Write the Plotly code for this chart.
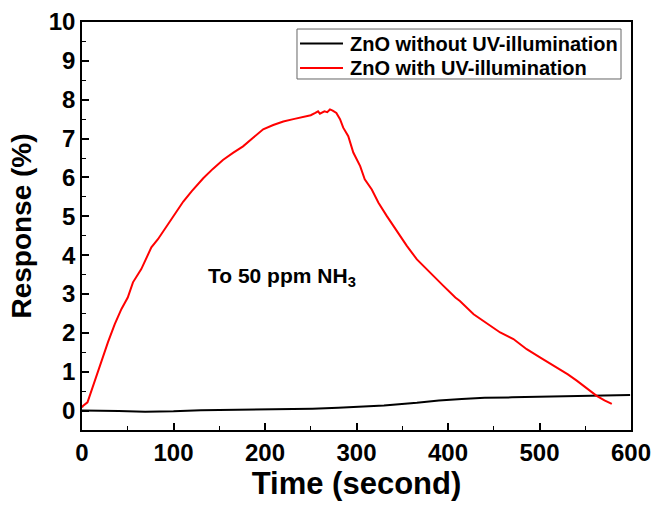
import plotly.graph_objects as go

# Black: ZnO without UV-illumination
t_dark = [0, 20, 40, 69, 100, 130, 160, 191, 220, 252, 280, 300, 330, 366, 390, 415, 440, 470, 518, 560, 599]
r_dark = [0.00, 0.00, -0.01, -0.03, -0.02, 0.01, 0.02, 0.02, 0.03, 0.05, 0.07, 0.09, 0.13, 0.20, 0.26, 0.30, 0.33, 0.34, 0.36, 0.38, 0.40]

# Red: ZnO with UV-illumination
t_uv = [0, 1, 6, 12, 17.5, 23, 28.4, 35.7, 43, 50, 55.7, 64.8, 72, 75.8, 83, 92.5, 100, 110.7, 120,
        132.5, 143, 154, 165, 176, 187, 198, 209, 220, 231, 242, 250, 255, 258, 260, 265, 268, 271, 274,
        278, 282, 285.5, 291, 296.5, 304, 309, 316.7, 324, 333, 344, 355, 366, 380, 395, 408,
        413, 428, 439, 457, 471.5, 486, 500.5, 511, 522.5, 531, 540.7, 551, 562.5, 571, 579]
r_uv = [0.08, 0.12, 0.21, 0.64, 0.98, 1.37, 1.76, 2.22, 2.61, 2.91, 3.30, 3.64, 3.98, 4.20, 4.41,
        4.74, 5.00, 5.38, 5.65, 5.98, 6.22, 6.45, 6.63, 6.80, 7.02, 7.24, 7.35, 7.44, 7.50, 7.55, 7.60,
        7.66, 7.70, 7.64, 7.70, 7.68, 7.75, 7.72, 7.66, 7.50, 7.28, 7.06, 6.64, 6.29, 5.95, 5.69, 5.35,
        5.01, 4.62, 4.24, 3.89, 3.55, 3.21, 2.91, 2.82, 2.48, 2.31, 2.01, 1.84, 1.58, 1.37, 1.22, 1.07,
        0.93, 0.77, 0.58, 0.38, 0.26, 0.17]

x_ticks = [0, 100, 200, 300, 400, 500, 600]
y_ticks = [0, 1, 2, 3, 4, 5, 6, 7, 8, 9, 10]
series_names = ["ZnO without UV-illumination", "ZnO with UV-illumination"]
series_colors = ["black", "#ff0000"]

FONT = "Liberation Sans, Arial, sans-serif"

fig = go.Figure()
fig.add_trace(go.Scatter(x=t_dark, y=r_dark, mode="lines", name=series_names[0],
                         line=dict(color=series_colors[0], width=2), showlegend=False))
fig.add_trace(go.Scatter(x=t_uv, y=r_uv, mode="lines", name=series_names[1],
                         line=dict(color=series_colors[1], width=2), showlegend=False))

fig.add_annotation(x=135, y=3.45, xref="x", yref="y", text="To 50 ppm NH<sub>3</sub>",
                   showarrow=False, xanchor="left", yanchor="middle",
                   font=dict(family=FONT, size=21, color="black", weight="bold"))

# Legend drawn in paper coordinates
leg_x0, leg_x1, leg_y0, leg_y1 = 0.3916, 0.9818, 0.8603, 0.9828
row_y = [0.947, 0.887]
fig.add_shape(type="rect", xref="paper", yref="paper", x0=leg_x0, x1=leg_x1, y0=leg_y0, y1=leg_y1,
              line=dict(color="#666666", width=1), fillcolor="white", layer="above")
for name, col, ry in zip(series_names, series_colors, row_y):
    fig.add_shape(type="line", xref="paper", yref="paper", x0=0.3971, x1=0.4754, y0=ry, y1=ry,
                  line=dict(color=col, width=2), layer="above")
    fig.add_annotation(x=0.4845, y=ry, xref="paper", yref="paper", text=name, showarrow=False,
                       xanchor="left", yanchor="middle",
                       font=dict(family=FONT, size=20, color="black", weight="bold"))

axis_common = dict(showgrid=False, zeroline=False, showline=True, linecolor="black", linewidth=1.5,
                   mirror=True, ticks="inside", ticklen=7, tickwidth=1.5, tickcolor="black",
                   automargin=False,
                   tickfont=dict(family=FONT, size=24, color="black", weight="bold"),
                   minor=dict(ticks="inside", ticklen=4, tickwidth=1.2, tickcolor="black"))

fig.update_xaxes(range=[0, 600], tickvals=x_ticks, ticktext=[str(v) for v in x_ticks],
                 minor_dtick=50,
                 title=dict(text="Time (second)", standoff=6,
                            font=dict(family=FONT, size=31, color="black", weight="bold")),
                 **axis_common)
fig.update_yaxes(range=[-0.5, 10], tickvals=y_ticks, ticktext=[str(v) for v in y_ticks],
                 minor_dtick=0.5, minor_tick0=0,
                 title=dict(text="Response (%)", standoff=9,
                            font=dict(family=FONT, size=28, color="black", weight="bold")),
                 **axis_common)

fig.update_layout(width=656, height=511, margin=dict(l=82, r=25, t=22, b=81),
                  paper_bgcolor="white", plot_bgcolor="white",
                  font=dict(family=FONT, color="black"), showlegend=False)

fig.write_html("out.html")
